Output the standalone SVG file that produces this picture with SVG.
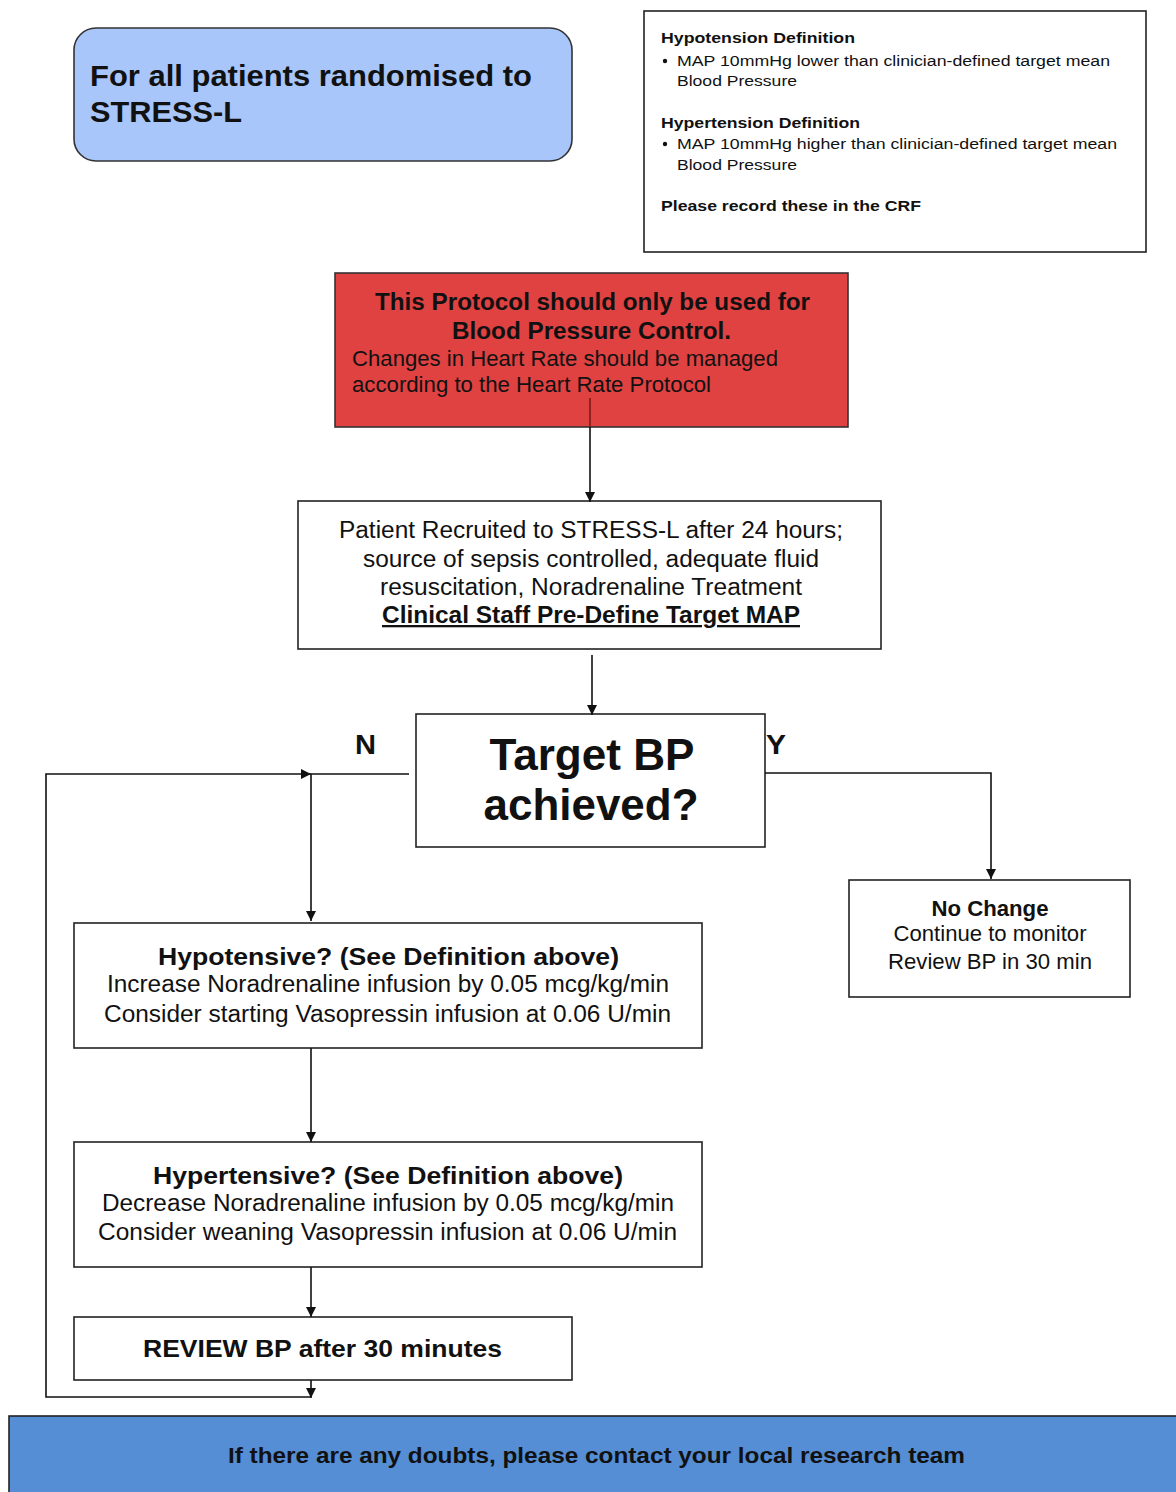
<svg xmlns="http://www.w3.org/2000/svg" width="1176" height="1492" viewBox="0 0 1176 1492">
<style>
text{font-family:"Liberation Sans",Arial,sans-serif;fill:#111}
.b{font-weight:bold}
.box{fill:#fff;stroke:#222;stroke-width:1.6}
.ln{fill:none;stroke:#111;stroke-width:1.6}
.c{text-anchor:middle}
</style>
<defs>
<marker id="ah" viewBox="0 0 10 10" refX="10" refY="5" markerWidth="10" markerHeight="10" markerUnits="userSpaceOnUse" orient="auto">
<path d="M0,0 L10,5 L0,10 z" fill="#111"/>
</marker>
</defs>
<rect width="1176" height="1492" fill="#fff"/>

<g id="start">
<rect x="74" y="28" width="498" height="133" rx="22" fill="#a8c6fa" stroke="#333" stroke-width="1.6"/>
<text x="90" y="86" class="b" font-size="30" textLength="442" lengthAdjust="spacingAndGlyphs">For all patients randomised to</text>
<text x="90" y="122" class="b" font-size="30" textLength="152" lengthAdjust="spacingAndGlyphs">STRESS-L</text>
</g>

<g id="definitions">
<rect x="644" y="11" width="502" height="241" class="box"/>
<text x="661" y="43" class="b" font-size="15.5" textLength="194" lengthAdjust="spacingAndGlyphs">Hypotension Definition</text>
<circle cx="665" cy="61" r="2.2" fill="#111"/>
<text x="677" y="66" font-size="15.5" textLength="433" lengthAdjust="spacingAndGlyphs">MAP 10mmHg lower than clinician-defined target mean</text>
<text x="677" y="86" font-size="15.5" textLength="120" lengthAdjust="spacingAndGlyphs">Blood Pressure</text>
<text x="661" y="128" class="b" font-size="15.5" textLength="199" lengthAdjust="spacingAndGlyphs">Hypertension Definition</text>
<circle cx="665" cy="144" r="2.2" fill="#111"/>
<text x="677" y="149" font-size="15.5" textLength="440" lengthAdjust="spacingAndGlyphs">MAP 10mmHg higher than clinician-defined target mean</text>
<text x="677" y="170" font-size="15.5" textLength="120" lengthAdjust="spacingAndGlyphs">Blood Pressure</text>
<text x="661" y="211" class="b" font-size="15.5" textLength="260" lengthAdjust="spacingAndGlyphs">Please record these in the CRF</text>
</g>

<g id="warning">
<rect x="335" y="273" width="513" height="154" fill="#e04141" stroke="#333" stroke-width="1.6"/>
<text x="592.5" y="310" class="b c" font-size="23" textLength="435" lengthAdjust="spacingAndGlyphs">This Protocol should only be used for</text>
<text x="591.5" y="339" class="b c" font-size="23" textLength="279" lengthAdjust="spacingAndGlyphs">Blood Pressure Control.</text>
<text x="352" y="366" font-size="22" textLength="426" lengthAdjust="spacingAndGlyphs">Changes in Heart Rate should be managed</text>
<text x="352" y="392" font-size="22" textLength="359" lengthAdjust="spacingAndGlyphs">according to the Heart Rate Protocol</text>
</g>

<g id="recruited">
<rect x="298" y="501" width="583" height="148" class="box"/>
<text x="591" y="538" class="c" font-size="23" textLength="504" lengthAdjust="spacingAndGlyphs">Patient Recruited to STRESS-L after 24 hours;</text>
<text x="591" y="567" class="c" font-size="23" textLength="456" lengthAdjust="spacingAndGlyphs">source of sepsis controlled, adequate fluid</text>
<text x="591" y="595" class="c" font-size="23" textLength="422" lengthAdjust="spacingAndGlyphs">resuscitation, Noradrenaline Treatment</text>
<text x="591" y="623" class="b c" font-size="23" textLength="418" lengthAdjust="spacingAndGlyphs" text-decoration="underline">Clinical Staff Pre-Define Target MAP</text>
</g>

<g id="target">
<rect x="416" y="714" width="349" height="133" class="box"/>
<text x="592" y="770" class="b c" font-size="44" textLength="205" lengthAdjust="spacingAndGlyphs">Target BP</text>
<text x="591" y="820" class="b c" font-size="44" textLength="215" lengthAdjust="spacingAndGlyphs">achieved?</text>
</g>

<g id="nochange">
<rect x="849" y="880" width="281" height="117" class="box"/>
<text x="990" y="916" class="b c" font-size="22" textLength="117" lengthAdjust="spacingAndGlyphs">No Change</text>
<text x="990" y="941" class="c" font-size="22" textLength="193" lengthAdjust="spacingAndGlyphs">Continue to monitor</text>
<text x="990" y="969" class="c" font-size="22" textLength="204" lengthAdjust="spacingAndGlyphs">Review BP in 30 min</text>
</g>

<g id="hypotensive">
<rect x="74" y="923" width="628" height="125" class="box"/>
<text x="388.5" y="965" class="b c" font-size="24" textLength="461" lengthAdjust="spacingAndGlyphs">Hypotensive? (See Definition above)</text>
<text x="388" y="992" class="c" font-size="23" textLength="562" lengthAdjust="spacingAndGlyphs">Increase Noradrenaline infusion by 0.05 mcg/kg/min</text>
<text x="387.5" y="1022" class="c" font-size="23" textLength="567" lengthAdjust="spacingAndGlyphs">Consider starting Vasopressin infusion at 0.06 U/min</text>
</g>

<g id="hypertensive">
<rect x="74" y="1142" width="628" height="125" class="box"/>
<text x="388" y="1184" class="b c" font-size="24" textLength="470" lengthAdjust="spacingAndGlyphs">Hypertensive? (See Definition above)</text>
<text x="388" y="1211" class="c" font-size="23" textLength="572" lengthAdjust="spacingAndGlyphs">Decrease Noradrenaline infusion by 0.05 mcg/kg/min</text>
<text x="387.5" y="1240" class="c" font-size="23" textLength="579" lengthAdjust="spacingAndGlyphs">Consider weaning Vasopressin infusion at 0.06 U/min</text>
</g>

<g id="review">
<rect x="74" y="1317" width="498" height="63" class="box"/>
<text x="322.5" y="1357" class="b c" font-size="24" textLength="359" lengthAdjust="spacingAndGlyphs">REVIEW BP after 30 minutes</text>
</g>

<g id="footer">
<rect x="9" y="1416" width="1175" height="84" fill="#558ed5" stroke="#222" stroke-width="1.6"/>
<text x="596.5" y="1463" class="b c" font-size="22" textLength="737" lengthAdjust="spacingAndGlyphs">If there are any doubts, please contact your local research team</text>
</g>

<g id="labels">
<text x="365.5" y="754" class="b c" font-size="27" textLength="21" lengthAdjust="spacingAndGlyphs">N</text>
<text x="776" y="754" class="b c" font-size="27" textLength="20" lengthAdjust="spacingAndGlyphs">Y</text>
</g>

<g id="connectors">
<line x1="590" y1="398" x2="590" y2="427" stroke="#7a1a1a" stroke-width="1.6"/>
<line x1="590" y1="427" x2="590" y2="502" class="ln" marker-end="url(#ah)"/>
<line x1="592" y1="655" x2="592" y2="715" class="ln" marker-end="url(#ah)"/>
<polyline points="409,774 311,774 311,921" class="ln" marker-end="url(#ah)"/>
<polyline points="765,773 991,773 991,879" class="ln" marker-end="url(#ah)"/>
<line x1="311" y1="1048" x2="311" y2="1142" class="ln" marker-end="url(#ah)"/>
<line x1="311" y1="1267" x2="311" y2="1317" class="ln" marker-end="url(#ah)"/>
<line x1="311" y1="1380" x2="311" y2="1398" class="ln" marker-end="url(#ah)"/>
<polyline points="311,1397 46,1397 46,774 311,774" class="ln" marker-end="url(#ah)"/>
</g>
</svg>
